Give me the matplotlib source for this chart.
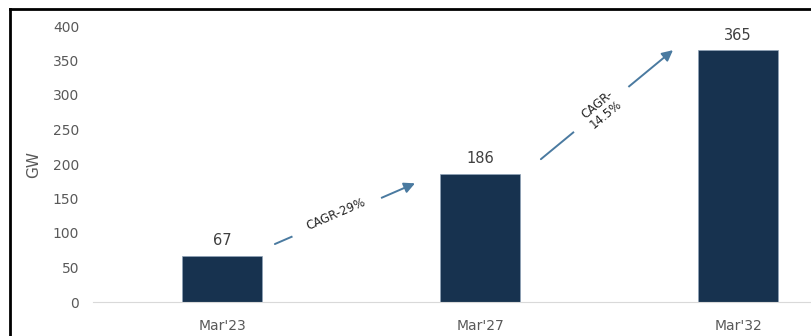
import matplotlib
matplotlib.use('Agg')
from matplotlib import pyplot as plt
from matplotlib.lines import Line2D

periods = ["Mar'23", "Mar'27", "Mar'32"]
capacity = [67, 186, 365]
cagr_labels = ['CAGR-29%', 'CAGR-\n14.5%']
yticks = [0, 50, 100, 150, 200, 250, 300, 350, 400]

bar_color = '#17324f'
arrow_color = '#4a7aa0'
text_grey = '#595959'

fig = plt.figure(figsize=(8.12, 3.36), dpi=100)
# axes run past the right edge: the original picture is cropped
ax = fig.add_axes([93 / 812, 34 / 336, 774 / 812, 276 / 336])

x = list(range(len(periods)))
ax.bar(x, capacity, width=0.31, color=bar_color, edgecolor='#8fa3b8', linewidth=0.5, zorder=2)
for i, v in enumerate(capacity):
    ax.text(i, v + 11, str(v), ha='center', va='bottom', fontsize=10.5, color='#404040')

ax.set_xlim(-0.5, 2.5)
ax.set_ylim(0, 400)
ax.set_yticks(yticks)
ax.set_xticks(x)
ax.set_xticklabels(periods)
ax.tick_params(axis='both', length=0, labelsize=10, colors=text_grey)
ax.tick_params(axis='y', pad=10)
ax.tick_params(axis='x', pad=12)
for s in ['top', 'right', 'left']:
    ax.spines[s].set_visible(False)
ax.spines['bottom'].set_color('#d9d9d9')
ax.set_ylabel('GW', fontsize=11, color=text_grey, labelpad=8)

# CAGR arrows between bars
arrows = [((0.205, 84), (0.748, 172), (0.44, 127), 23.5),
          ((1.236, 207), (1.748, 365), (1.47, 279), 39.5)]
for (start, end, mid, ang), lab in zip(arrows, cagr_labels):
    ax.annotate('', xy=end, xytext=start,
                arrowprops=dict(arrowstyle='-|>', color=arrow_color, lw=1.4,
                                mutation_scale=16, shrinkA=0, shrinkB=0), zorder=3)
    ax.text(mid[0], mid[1], lab, rotation=ang, ha='center', va='center', fontsize=8.5,
            color='#262626', rotation_mode='anchor', linespacing=1.0,
            bbox=dict(facecolor='white', edgecolor='none', pad=12), zorder=4)

# black frame of the cropped screenshot (top and left)
fig.add_artist(Line2D([10 / 812, 1], [1 - 9 / 336, 1 - 9 / 336], color='black', lw=2, transform=fig.transFigure))
fig.add_artist(Line2D([10 / 812, 10 / 812], [0, 1 - 9 / 336], color='black', lw=2, transform=fig.transFigure))

fig.savefig('out.png', dpi=100)
